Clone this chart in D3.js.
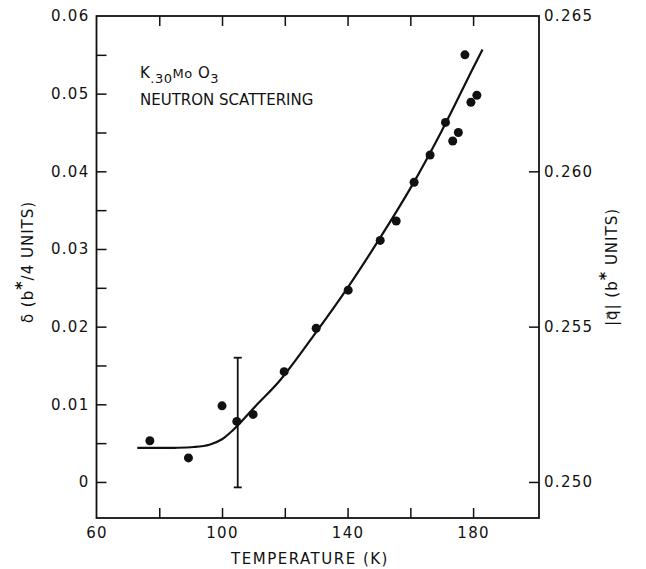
<!DOCTYPE html>
<html>
<head>
<meta charset="utf-8">
<script src="https://cdn.jsdelivr.net/npm/d3@7"></script>
<style>
  body { margin: 0; background: #fff; }
  svg text { font-family: "DejaVu Sans", sans-serif; fill: #111; }
</style>
</head>
<body>
<div id="chart"></div>
<script>
// measured points (temperature in K, delta in b*/4 units)
var temps = [77, 89.3, 100, 104.7, 109.9, 119.8, 130, 140.2, 150.4, 155.5, 161.2, 166.3, 171.2, 173.5, 175.3, 177.4, 179.3, 181.2];
var deltas = [0.0053, 0.0031, 0.0098, 0.0078, 0.0087, 0.0142, 0.0198, 0.0247, 0.0311, 0.0336, 0.0386, 0.0421, 0.0463, 0.0439, 0.0450, 0.0550, 0.0489, 0.0498];

// fitted curve
var fitTemps = [73, 85, 91, 96, 100, 103, 106, 111, 118.5, 130, 140, 150, 160, 170, 180, 183];
var fitDeltas = [0.0044, 0.0044, 0.0045, 0.0048, 0.0055, 0.0065, 0.0077, 0.0099, 0.0131, 0.0193, 0.025, 0.0312, 0.0378, 0.0452, 0.0533, 0.0557];

// single error bar
var errTemp = 105, errLow = -0.0007, errHigh = 0.016;

var xTicks = [80, 100, 120, 140, 160, 180];
var xLabels = [60, 100, 140, 180];
var yTicks = [0, 0.005, 0.01, 0.015, 0.02, 0.025, 0.03, 0.035, 0.04, 0.045, 0.05, 0.055];
var yLabels = [0, 0.01, 0.02, 0.03, 0.04, 0.05, 0.06];
var qTicks = [0.250, 0.255, 0.260];
var qLabels = [0.250, 0.255, 0.260, 0.265];

var W = 646, H = 569;
var plotLeft = 96.5, plotRight = 539, plotTop = 16, plotBottom = 518;

var svg = d3.select("#chart").append("svg")
  .attr("width", W)
  .attr("height", H);

var x = d3.scaleLinear().domain([60, 201]).range([plotLeft, plotRight]);
var y = d3.scaleLinear().domain([-0.00464, 0.06]).range([plotBottom, plotTop]);
var yq = d3.scaleLinear().domain([0.25 - 0.00116, 0.265]).range([plotBottom, plotTop]);

// frame
svg.append("rect")
  .attr("x", plotLeft).attr("y", plotTop)
  .attr("width", plotRight - plotLeft).attr("height", plotBottom - plotTop)
  .attr("fill", "none").attr("stroke", "#111").attr("stroke-width", 1.8);

function styleAxis(g) {
  g.select(".domain").remove();
  g.selectAll("line").attr("stroke", "#111").attr("stroke-width", 1.5);
  g.selectAll("text").attr("font-size", 15).attr("letter-spacing", 1.3).attr("fill", "#111")
    .attr("font-family", "DejaVu Sans, sans-serif");
}

// bottom ticks (inward)
svg.append("g")
  .attr("transform", "translate(0," + plotBottom + ")")
  .call(d3.axisBottom(x).tickValues(xTicks).tickSize(-10).tickFormat(""))
  .call(styleAxis);

// bottom labels
svg.append("g")
  .attr("transform", "translate(0," + plotBottom + ")")
  .call(d3.axisBottom(x).tickValues(xLabels).tickSize(0).tickFormat(d3.format("d")))
  .call(styleAxis)
  .call(function (g) {
    g.selectAll("text").attr("y", 20).attr("dy", 0);
  });

// top ticks
svg.append("g")
  .attr("transform", "translate(0," + plotTop + ")")
  .call(d3.axisTop(x).tickValues(xTicks).tickSize(-10).tickFormat(""))
  .call(styleAxis);

// left axis
svg.append("g")
  .attr("transform", "translate(" + plotLeft + ",0)")
  .call(d3.axisLeft(y).tickValues(yTicks).tickSize(-10).tickFormat(""))
  .call(styleAxis);

svg.append("g")
  .attr("transform", "translate(" + plotLeft + ",0)")
  .call(d3.axisLeft(y).tickValues(yLabels).tickSize(0).tickPadding(7)
    .tickFormat(function (d) { return d === 0 ? "0" : d3.format(".2f")(d); }))
  .call(styleAxis);

// right axis
svg.append("g")
  .attr("transform", "translate(" + plotRight + ",0)")
  .call(d3.axisRight(yq).tickValues(qTicks).tickSize(-10).tickFormat(""))
  .call(styleAxis);

svg.append("g")
  .attr("transform", "translate(" + plotRight + ",0)")
  .call(d3.axisRight(yq).tickValues(qLabels).tickSize(0).tickPadding(5).tickFormat(d3.format(".3f")))
  .call(styleAxis);

// fitted curve
var fit = fitTemps.map(function (t, i) { return { t: t, d: fitDeltas[i] }; });
var line = d3.line()
  .x(function (d) { return x(d.t); })
  .y(function (d) { return y(d.d); })
  .curve(d3.curveCatmullRom.alpha(0.5));

svg.append("path")
  .datum(fit)
  .attr("d", line)
  .attr("fill", "none")
  .attr("stroke", "#111")
  .attr("stroke-width", 2.2);

// error bar
var eb = svg.append("g").attr("stroke", "#111").attr("stroke-width", 1.8);
eb.append("line")
  .attr("x1", x(errTemp)).attr("x2", x(errTemp))
  .attr("y1", y(errLow)).attr("y2", y(errHigh));
[errLow, errHigh].forEach(function (v) {
  eb.append("line")
    .attr("x1", x(errTemp) - 4).attr("x2", x(errTemp) + 4)
    .attr("y1", y(v)).attr("y2", y(v));
});

// points
var pts = temps.map(function (t, i) { return { t: t, d: deltas[i] }; });
svg.selectAll(".dot")
  .data(pts)
  .enter()
  .append("circle")
  .attr("class", "dot")
  .attr("cx", function (d) { return x(d.t); })
  .attr("cy", function (d) { return y(d.d); })
  .attr("r", 4.5)
  .attr("fill", "#111");

// annotation
var ann = svg.append("text").attr("x", 140).attr("y", 78).attr("font-size", 15).attr("letter-spacing", 0.5);
ann.append("tspan").text("K");
ann.append("tspan").attr("dy", 5).attr("font-size", 13).text(".30");
ann.append("tspan").attr("dy", -5).attr("font-size", 13).text("Mo");
ann.append("tspan").text(" O");
ann.append("tspan").attr("dy", 5).attr("font-size", 13).text("3");

svg.append("text")
  .attr("x", 140).attr("y", 105)
  .attr("font-size", 15)
  .text("NEUTRON SCATTERING");

// x label
svg.append("text")
  .attr("x", 310).attr("y", 564)
  .attr("text-anchor", "middle")
  .attr("font-size", 15)
  .attr("letter-spacing", 1.5)
  .text("TEMPERATURE (K)");

// left label
var yl = svg.append("text")
  .attr("transform", "translate(33,262) rotate(-90)")
  .attr("text-anchor", "middle")
  .attr("font-size", 15)
  .attr("letter-spacing", 1);
yl.append("tspan").text("\u03B4 (b");
yl.append("tspan").attr("dy", -6).attr("font-size", 16).attr("font-weight", "bold").text("*");
yl.append("tspan").attr("dy", 6).text("/4 UNITS)");

// right label
var ql = svg.append("text")
  .attr("transform", "translate(617,267) rotate(-90)")
  .attr("text-anchor", "middle")
  .attr("font-size", 15)
  .attr("letter-spacing", 1);
ql.append("tspan").text("|q\u20D7| (b");
ql.append("tspan").attr("dy", -6).attr("font-size", 16).attr("font-weight", "bold").text("*");
ql.append("tspan").attr("dy", 6).text(" UNITS)");
</script>
</body>
</html>
